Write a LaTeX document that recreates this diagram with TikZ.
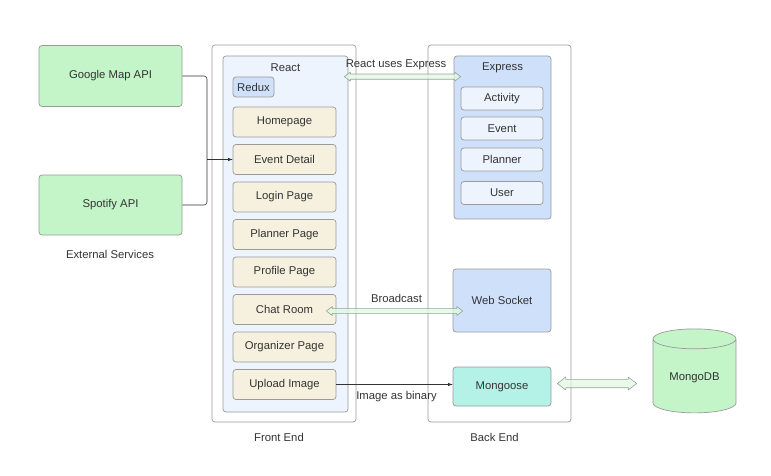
\documentclass[tikz,border=0pt]{standalone}
\usepackage{fontspec}
\setmainfont{Liberation Sans}
\usepackage{tikz}
\usetikzlibrary{shapes,shapes.geometric,arrows,calc}
\definecolor{txt}{HTML}{333333}
\definecolor{boxline}{HTML}{9A9A9A}
\definecolor{apigreen}{HTML}{C3F5C9}
\definecolor{reactblue}{HTML}{EDF4FE}
\definecolor{midblue}{HTML}{CFE0FB}
\definecolor{pagecol}{HTML}{F5F1DE}
\definecolor{mongteal}{HTML}{B4F2E7}
\definecolor{arrowfill}{HTML}{E2F8E4}
\definecolor{arrowline}{HTML}{8FA894}
\tikzstyle{box}=[draw=boxline, rounded corners=3pt, line width=0.7pt, text=txt, font=\fontsize{11.3}{13}\selectfont]
\tikzstyle{pagebox}=[box, fill=pagecol, minimum width=103, minimum height=30]
\tikzstyle{subbox}=[box, fill=reactblue, minimum width=82, minimum height=23]
\tikzstyle{lbl}=[text=txt, font=\fontsize{11.3}{13}\selectfont, inner sep=1pt]
\tikzset{fatarrow/.style 2 args={draw=arrowline, fill=arrowfill, fill opacity=0.75, line width=0.6pt, line join=round,
  to path={let \p1=(\tikztostart), \p2=(\tikztotarget) in
    (\p1) -- (\x1+1.3*#1,\y1+#1) -- (\x1+1.3*#1,\y1+#2) -- (\x2-1.3*#1,\y1+#2) -- (\x2-1.3*#1,\y1+#1)
    -- (\p2) -- (\x2-1.3*#1,\y1-#1) -- (\x2-1.3*#1,\y1-#2) -- (\x1+1.3*#1,\y1-#2) -- (\x1+1.3*#1,\y1-#1) -- cycle}}}

\begin{document}
\begin{tikzpicture}[x=1pt,y=-1pt]
\useasboundingbox (0,0) rectangle (771,476);
% external services
\node[box, fill=apigreen, minimum width=143, minimum height=61] (google) at (110.5,76) {Google Map API};
\node[box, fill=apigreen, minimum width=143, minimum height=60] (spotify) at (110.5,205) {Spotify API};
\node[lbl] (ext) at (110,254) {External Services};

% front end
\node[box, fill=white, minimum width=144, minimum height=377] (front) at (284,233.5) {};
\node[box, fill=reactblue, minimum width=125, minimum height=356] (react) at (285.5,234) {};
\node[lbl] (reactlbl) at ($(react.north)+(0,12)$) {React};
\node[box, fill=midblue, minimum width=41, minimum height=20, inner sep=1pt] (redux) at (253.5,87) {Redux};
\foreach \nm/\txt [count=\i] in {home/Homepage, event/Event Detail, login/Login Page, planner/Planner Page,
    profile/Profile Page, chat/Chat Room, organizer/Organizer Page, upload/Upload Image}
  \node[pagebox] (\nm) at (284.5,{122+37.5*(\i-1)}) {\txt};
\node[lbl] (frontlbl) at (279,437) {Front End};

% back end
\node[box, fill=white, minimum width=143, minimum height=377] (back) at (499.5,233.5) {};
\node[box, fill=midblue, minimum width=97, minimum height=163] (express) at (502.5,137.5) {};
\node[lbl] (expresslbl) at ($(express.north)+(0,12)$) {Express};
\node[subbox] (activity) at (502,98.5) {Activity};
\node[subbox] (xevent) at (502,128.5) {Event};
\node[subbox] (xplanner) at (502,159.5) {Planner};
\node[subbox] (user) at (502,193) {User};
\node[box, fill=midblue, minimum width=98, minimum height=63] (socket) at (502,300.5) {Web Socket};
\node[box, fill=mongteal, minimum width=98, minimum height=39] (mongoose) at (502,386.5) {Mongoose};
\node[lbl] (backlbl) at (494.5,437) {Back End};

% database
\node[cylinder, shape border rotate=90, aspect=0.35, draw=boxline, line width=0.7pt, fill=apigreen, text=txt,
  font=\fontsize{11.3}{13}\selectfont, minimum width=83, minimum height=84] (mongodb) at (694.5,378) {MongoDB};

% connectors
\coordinate (join) at (207,0 |- event.west);
\draw[txt, line width=0.6pt, rounded corners=3pt] (google.east) -| (join);
\draw[txt, line width=0.6pt, rounded corners=3pt] (spotify.east) -| (join);
\draw[txt, line width=0.6pt, -latex] (join) -- (event.west);

\coordinate (ra) at ($(react.north east)+(-4,21)$);
\coordinate (rb) at ($(express.north west)+(7,0)$);
\draw[fatarrow={4.5pt}{2.6pt}] (ra) to (rb |- ra);
\node[lbl] (uses) at (396,65) {React uses Express};

\coordinate (ca) at ($(chat.east)+(-10,1.5)$);
\coordinate (cb) at ($(socket.west)+(10,0)$);
\draw[fatarrow={4.5pt}{2.4pt}] (ca) to (cb |- ca);
\node[lbl] (broad) at (396.5,298) {Broadcast};

\draw[txt, line width=0.6pt, -latex] (upload.east) -- (upload.east -| mongoose.west);
\node[lbl] (binary) at (396.5,397) {Image as binary};

\coordinate (ma) at ($(mongoose.east)+(6,-3)$);
\coordinate (mb) at ($(mongodb.west |- ma)+(-16,0)$);
\draw[fatarrow={6.5pt}{4.2pt}] (ma) to (mb);
\end{tikzpicture}
\end{document}
